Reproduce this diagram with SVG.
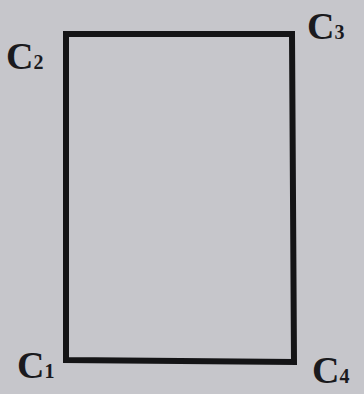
<svg xmlns="http://www.w3.org/2000/svg" width="364" height="394" viewBox="0 0 364 394">
<style>
.lbl{font-family:"Liberation Serif","Times New Roman",serif;font-weight:bold;font-size:38px;fill:#1a1a1e}
.sub{font-size:20px}
.edge{fill:none;stroke:#141416;stroke-width:6;stroke-linejoin:miter}
</style>
<rect x="0" y="0" width="364" height="394" fill="#c6c6cb"/>
<g id="connectors">
<polygon class="edge" points="66,34 292,34 294,362 66,360"/>
</g>
<g id="C1"><text class="lbl" x="17" y="378">C<tspan class="sub">1</tspan></text></g>
<g id="C2"><text class="lbl" x="6" y="69">C<tspan class="sub">2</tspan></text></g>
<g id="C3"><text class="lbl" x="307" y="39">C<tspan class="sub">3</tspan></text></g>
<g id="C4"><text class="lbl" x="312" y="383">C<tspan class="sub">4</tspan></text></g>
</svg>
